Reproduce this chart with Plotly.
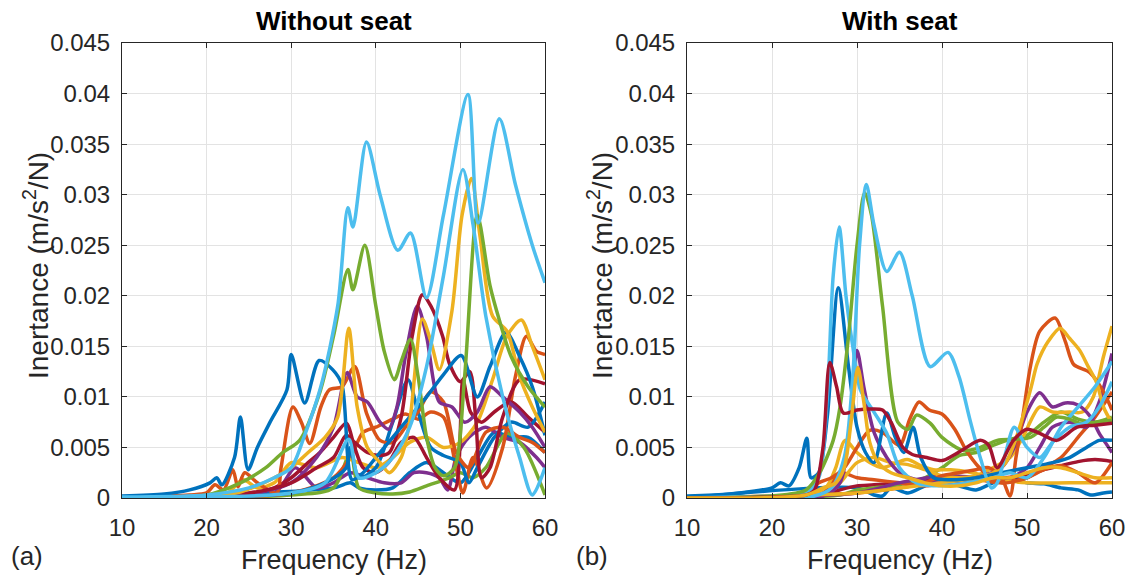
import plotly.graph_objects as go

# ---------------- colours (MATLAB default order) ----------------
BLUE, ORANGE, YELLOW, PURPLE, GREEN, LBLUE, DRED = (
    "#0072BD", "#D95319", "#EDB120", "#7E2F8E", "#77AC30", "#4DBEEE", "#A2142F")

X_TICKS = [10, 20, 30, 40, 50, 60]
Y_TICKS = [0, 0.005, 0.01, 0.015, 0.02, 0.025, 0.03, 0.035, 0.04, 0.045]
Y_TICK_TEXT = ["0", "0.005", "0.01", "0.015", "0.02", "0.025", "0.03", "0.035", "0.04", "0.045"]

# ======================= (a) Without seat =======================
a_blue1_f = [10, 15, 18, 20.4, 21.2, 21.8, 23.3, 24, 24.9, 26, 27.5, 29.5, 30, 31.6, 33.3, 34.9, 36, 37.2, 38.5, 40, 42, 44, 46, 48, 50.1, 52, 53.5, 55.4, 57, 58.5, 60]
a_blue1_v = [0.0002, 0.0004, 0.0008, 0.0015, 0.002, 0.0013, 0.004, 0.008, 0.0028, 0.005, 0.0075, 0.0107, 0.0142, 0.0094, 0.0136, 0.0127, 0.0112, 0.0018, 0.0025, 0.004, 0.006, 0.008, 0.01, 0.0122, 0.0141, 0.0100, 0.013, 0.0164, 0.014, 0.011, 0.0062]
a_blue2_f = [10, 30, 34, 36.5, 37, 38, 40, 42, 43.8, 45, 46.5, 48, 50, 51, 52, 54, 56, 58, 60]
a_blue2_v = [0, 0.0005, 0.0015, 0.003, 0.005, 0.002, 0.003, 0.0075, 0.0117, 0.0085, 0.005, 0.0042, 0.0035, 0.0015, 0.003, 0.006, 0.0075, 0.007, 0.0095]
a_blue3_f = [10, 35, 37, 38, 40, 42, 44, 46, 48, 50, 52, 54, 56, 58, 60]
a_blue3_v = [0, 0.001, 0.0015, 0.001, 0.0008, 0.001, 0.0025, 0.0035, 0.0025, 0.0015, 0.004, 0.0065, 0.006, 0.006, 0.0045]
a_orange1_f = [10, 18, 20, 21, 22, 23.1, 23.7, 24.5, 26, 28.3, 28.8, 30.2, 31.2, 32.2, 33.5, 34.5, 36, 37.5, 38.9, 40.5, 42, 43.5, 45, 46.5, 48, 49.5, 51, 53, 55, 57, 58.5, 60]
a_orange1_v = [0.0001, 0.0003, 0.0005, 0.0013, 0.0008, 0.0028, 0.0011, 0.0025, 0.0015, 0.0005, 0.003, 0.009, 0.0075, 0.0054, 0.009, 0.0107, 0.011, 0.013, 0.0084, 0.0057, 0.0055, 0.007, 0.0085, 0.0105, 0.0095, 0.0045, 0.003, 0.0065, 0.007, 0.006, 0.0055, 0.0045]
a_orange2_f = [10, 30, 35, 37, 38.5, 40, 42, 43.5, 45, 46.5, 48, 49.5, 50.3, 51.5, 53.1, 55, 56.5, 57.8, 59, 60]
a_orange2_v = [0, 0.0005, 0.002, 0.004, 0.0065, 0.007, 0.0078, 0.0083, 0.0078, 0.0085, 0.008, 0.003, 0.0005, 0.004, 0.001, 0.005, 0.012, 0.016, 0.0145, 0.0142]
a_yellow1_f = [10, 20, 24, 26, 28, 30, 32, 34, 35.5, 36.8, 37.8, 39, 40.5, 41.6, 43, 44, 45.5, 46.5, 47.5, 49, 50.2, 51.3, 52.3, 53.8, 55.5, 57, 58.5, 60]
a_yellow1_v = [0, 0.0002, 0.0006, 0.0012, 0.002, 0.003, 0.0045, 0.006, 0.008, 0.0168, 0.009, 0.005, 0.0035, 0.0025, 0.004, 0.0075, 0.0177, 0.0155, 0.0127, 0.0185, 0.028, 0.0316, 0.026, 0.018, 0.0165, 0.012, 0.009, 0.0065]
a_yellow2_f = [10, 22, 24.3, 26, 28, 30, 33, 36, 38, 40, 42, 44, 46, 48, 50, 52, 53.8, 55.5, 57.2, 58.5, 60]
a_yellow2_v = [0, 0.0002, 0.0018, 0.001, 0.0015, 0.0035, 0.003, 0.004, 0.0035, 0.003, 0.004, 0.0055, 0.006, 0.005, 0.0055, 0.0075, 0.0117, 0.016, 0.0176, 0.015, 0.0117]
a_purple1_f = [10, 25, 30, 33, 35, 36.6, 37.8, 39, 40.5, 41.5, 42.5, 43.5, 44.9, 46, 47.5, 49, 50.5, 52, 53.5, 55, 57, 58.5, 60]
a_purple1_v = [0, 0.0004, 0.0015, 0.004, 0.007, 0.0124, 0.01, 0.0095, 0.0075, 0.0068, 0.009, 0.014, 0.019, 0.016, 0.0095, 0.009, 0.0075, 0.0085, 0.011, 0.01, 0.0085, 0.007, 0.005]
a_purple2_f = [10, 28, 30.5, 33, 35, 37, 39, 41, 43, 44.5, 46, 47.5, 48.5, 49.5, 51, 53, 55, 57, 59, 60]
a_purple2_v = [0, 0.0005, 0.003, 0.001, 0.0015, 0.0025, 0.002, 0.0015, 0.0015, 0.0025, 0.0025, 0.002, 0.0008, 0.004, 0.006, 0.007, 0.006, 0.0055, 0.004, 0.003]
a_green1_f = [10, 20, 24, 27, 29, 31, 33.4, 35, 36.7, 37.3, 38.7, 40, 41, 42.2, 43, 44.1, 45, 46, 47, 48, 49.3, 50.5, 52, 53.5, 54.6, 56, 58, 60]
a_green1_v = [0, 0.0003, 0.0015, 0.003, 0.0045, 0.0057, 0.0105, 0.016, 0.0226, 0.0206, 0.025, 0.019, 0.0145, 0.0117, 0.0135, 0.0157, 0.012, 0.006, 0.003, 0.0022, 0.003, 0.012, 0.028, 0.021, 0.0176, 0.014, 0.011, 0.009]
a_green2_f = [10, 30, 35, 37, 38, 40, 42, 44, 46, 48.7, 50, 51.5, 53, 55.5, 57.5, 60]
a_green2_v = [0, 0.0003, 0.001, 0.0045, 0.001, 0.0005, 0.0004, 0.0006, 0.0012, 0.002, 0.0025, 0.002, 0.003, 0.0064, 0.005, 0.0003]
a_lblue1_f = [10, 20, 25, 28, 30, 31.5, 33.5, 35.5, 36.7, 37.3, 38.9, 40.5, 42.6, 44.1, 46, 48, 50.9, 52.1, 54.6, 56.5, 58.5, 60]
a_lblue1_v = [0.0001, 0.0003, 0.001, 0.002, 0.003, 0.006, 0.011, 0.019, 0.0287, 0.0268, 0.0352, 0.030, 0.0245, 0.0262, 0.0198, 0.028, 0.0399, 0.0272, 0.0375, 0.031, 0.025, 0.0213]
a_lblue2_f = [10, 30, 34, 36.8, 38, 40, 42, 44, 46, 48, 50.3, 51.5, 53, 55, 57, 58.5, 60]
a_lblue2_v = [0, 0.0005, 0.0015, 0.0058, 0.002, 0.0025, 0.004, 0.007, 0.013, 0.022, 0.0325, 0.027, 0.018, 0.01, 0.004, 0.0003, 0.003]
a_dred1_f = [10, 25, 30, 33, 35, 36.5, 37.5, 39, 40.5, 41.6, 43, 44.3, 45.5, 46.5, 47.9, 48.7, 50, 51.1, 51.8, 52.5, 53.5, 55, 57, 60]
a_dred1_v = [0, 0.0005, 0.0015, 0.003, 0.004, 0.0062, 0.0055, 0.0045, 0.0042, 0.0045, 0.008, 0.016, 0.0201, 0.019, 0.016, 0.0133, 0.0115, 0.0125, 0.008, 0.002, 0.003, 0.008, 0.0117, 0.0113]
a_dred2_f = [10, 25, 28, 30, 32, 33.4, 35, 36.5, 37.5, 38.5, 40, 41.5, 43, 44.5, 46, 47.5, 49.3, 50.3, 51.2, 52.5, 54, 56, 58, 60]
a_dred2_v = [0, 0.0003, 0.001, 0.002, 0.0035, 0.0045, 0.006, 0.0074, 0.005, 0.003, 0.0025, 0.0035, 0.0055, 0.006, 0.004, 0.002, 0.0008, 0.0117, 0.0085, 0.0075, 0.0085, 0.0095, 0.008, 0.0065]

# ======================= (b) With seat =======================
b_blue1_f = [10, 15, 18, 20, 21, 22, 23.2, 24.1, 24.6, 25.5, 26.5, 27.8, 29, 30, 31, 32, 33.5, 34.5, 35.5, 36.6, 37.5, 39, 41, 44, 47, 50, 53, 55, 57, 58.5, 60]
b_blue1_v = [0.0002, 0.0004, 0.0007, 0.001, 0.0015, 0.0012, 0.003, 0.0059, 0.002, 0.0025, 0.008, 0.0208, 0.013, 0.007, 0.0045, 0.0035, 0.0084, 0.006, 0.0045, 0.007, 0.004, 0.002, 0.0018, 0.002, 0.0025, 0.003, 0.0035, 0.004, 0.005, 0.0057, 0.0057]
b_blue2_f = [10, 30, 32, 33, 34, 36, 38, 40, 42, 44, 46, 48, 50, 52, 54, 56, 57.5, 59, 60]
b_blue2_v = [0, 0.001, 0.0003, 0.0002, 0.001, 0.0005, 0.0012, 0.0018, 0.0012, 0.0008, 0.0015, 0.002, 0.0015, 0.0014, 0.001, 0.0008, 0.0003, 0.0005, 0.0006]
b_orange1_f = [10, 30, 35, 38, 40, 42, 44, 45.5, 47, 48, 48.7, 49.5, 50.4, 51.5, 53.3, 54.5, 55.5, 57.4, 59, 60]
b_orange1_v = [0, 0.0005, 0.001, 0.0015, 0.0022, 0.0025, 0.0028, 0.003, 0.002, 0.0002, 0.004, 0.008, 0.013, 0.0165, 0.0178, 0.0155, 0.0132, 0.0124, 0.0105, 0.0087]
b_orange2_f = [10, 24, 25.5, 27, 28.5, 30, 31.5, 33, 35, 36.2, 37.3, 38.5, 40, 41.5, 43, 45, 47, 50, 52, 54, 56, 58, 60]
b_orange2_v = [0, 0.0003, 0.0015, 0.002, 0.003, 0.005, 0.0067, 0.0065, 0.0052, 0.0078, 0.0095, 0.0087, 0.0083, 0.0068, 0.0045, 0.0025, 0.0015, 0.002, 0.0028, 0.0032, 0.0025, 0.0015, 0.0035]
b_orange3_f = [10, 26, 28, 30, 32, 35, 38, 41, 44, 47, 50, 52, 54, 56, 58, 60]
b_orange3_v = [0, 0.0005, 0.0025, 0.002, 0.0018, 0.0015, 0.0012, 0.0015, 0.0018, 0.0015, 0.002, 0.003, 0.004, 0.006, 0.008, 0.0105]
b_yellow1_f = [10, 30, 35, 40, 44, 46, 47.5, 48.5, 49.5, 50.5, 51.2, 52.5, 53.9, 55, 56.2, 57.2, 58.2, 59, 60]
b_yellow1_v = [0, 0.0005, 0.001, 0.0015, 0.002, 0.0025, 0.0035, 0.0054, 0.008, 0.011, 0.0133, 0.0155, 0.0168, 0.0158, 0.0146, 0.013, 0.0114, 0.009, 0.0074]
b_yellow2_f = [10, 26, 28, 30, 32, 34, 36, 38, 40, 42, 44, 46, 48, 49.5, 51.5, 53, 55, 56.5, 57.8, 59, 60]
b_yellow2_v = [0, 0.0003, 0.0015, 0.0035, 0.004, 0.0035, 0.0033, 0.0028, 0.0022, 0.002, 0.0022, 0.003, 0.004, 0.006, 0.009, 0.0085, 0.0085, 0.0085, 0.01, 0.014, 0.017]
b_yellow3_f = [10, 24, 26, 27.5, 28.5, 29.3, 30.1, 30.8, 31.5, 32.5, 34, 36, 38, 40, 42, 44, 46, 48, 50, 52, 54, 56, 58, 60]
b_yellow3_v = [0, 0.0003, 0.001, 0.0015, 0.003, 0.0075, 0.0129, 0.0095, 0.0055, 0.0035, 0.0025, 0.002, 0.0015, 0.0012, 0.0012, 0.0015, 0.002, 0.002, 0.0025, 0.003, 0.003, 0.0025, 0.002, 0.002]
b_yellow4_f = [10, 25, 26.5, 27.5, 28.6, 30, 31.5, 33, 35.9, 37.5, 39, 41, 43, 45, 47, 50, 55, 60]
b_yellow4_v = [0, 0.0005, 0.0012, 0.003, 0.0057, 0.0045, 0.0035, 0.003, 0.0038, 0.0032, 0.0028, 0.0028, 0.0026, 0.0022, 0.0018, 0.0015, 0.0015, 0.0015]
b_purple1_f = [10, 26, 28, 29, 30, 30.8, 32, 33.5, 35, 37, 40, 44, 47, 48.5, 50, 51.5, 53, 54.5, 56, 57.5, 58.5, 59.2, 60]
b_purple1_v = [0, 0.0002, 0.0015, 0.006, 0.0146, 0.011, 0.0065, 0.004, 0.0025, 0.0018, 0.0015, 0.002, 0.003, 0.005, 0.0085, 0.0104, 0.009, 0.0094, 0.0092, 0.008, 0.0064, 0.0055, 0.0045]
b_purple2_f = [10, 30, 35, 40, 45, 48, 50, 51.5, 53, 55, 57, 58.5, 60]
b_purple2_v = [0, 0.0005, 0.0015, 0.0022, 0.002, 0.002, 0.003, 0.005, 0.007, 0.0075, 0.007, 0.0095, 0.0143]
b_green1_f = [10, 20, 24, 25.6, 27.2, 28, 29, 30, 30.9, 31.7, 33, 34.8, 36, 37, 38.6, 40, 42.5, 44.5, 46.5, 48.5, 50.4, 52, 53.5, 55, 56.2, 58, 60]
b_green1_v = [0, 0.0002, 0.0008, 0.0025, 0.0057, 0.009, 0.016, 0.025, 0.0302, 0.028, 0.019, 0.0075, 0.0068, 0.0082, 0.0074, 0.006, 0.0047, 0.005, 0.0057, 0.0058, 0.006, 0.007, 0.008, 0.0078, 0.0074, 0.0075, 0.0077]
b_green2_f = [10, 28, 30, 32, 34, 36, 38, 40, 42, 44, 46, 48, 50, 52, 54, 56, 58, 60]
b_green2_v = [0, 0.0003, 0.0008, 0.001, 0.0012, 0.0015, 0.002, 0.003, 0.0042, 0.0045, 0.0052, 0.0058, 0.0062, 0.0075, 0.0085, 0.0078, 0.0075, 0.008]
b_lblue1_f = [10, 20, 24, 25.5, 26.5, 27.2, 27.9, 28.7, 29.5, 30.4, 32, 33.5, 35, 37, 40, 43, 46, 48, 50, 52, 54, 56, 58, 60]
b_lblue1_v = [0, 0.0002, 0.0005, 0.002, 0.01, 0.022, 0.0268, 0.02, 0.015, 0.0107, 0.0085, 0.0064, 0.003, 0.0015, 0.0012, 0.0015, 0.002, 0.0025, 0.002, 0.004, 0.007, 0.009, 0.011, 0.0135]
b_lblue2_f = [10, 25, 27, 28.5, 29.5, 30.3, 31.1, 32, 33.5, 35, 36.5, 38.6, 40.7, 42, 43.3, 44.5, 45.8, 46.5, 47.5, 48.5, 50, 51.5, 53, 55, 57, 58.5, 60]
b_lblue2_v = [0, 0.0002, 0.001, 0.004, 0.012, 0.025, 0.031, 0.027, 0.0224, 0.0243, 0.02, 0.013, 0.0144, 0.012, 0.0077, 0.004, 0.001, 0.0015, 0.0045, 0.007, 0.005, 0.004, 0.0055, 0.007, 0.0075, 0.009, 0.0115]
b_dred1_f = [10, 20, 24, 25, 26, 26.8, 27.6, 28.4, 30, 31.5, 33, 34, 35.4, 36.5, 38.2, 40, 41.3, 42.5, 44.5, 45.5, 46.5, 48.4, 50, 51.5, 53.5, 55.9, 58, 60]
b_dred1_v = [0, 0.0001, 0.0003, 0.0008, 0.005, 0.0134, 0.011, 0.0084, 0.0087, 0.0088, 0.0087, 0.0075, 0.005, 0.0043, 0.004, 0.0037, 0.0042, 0.0048, 0.0057, 0.0052, 0.003, 0.0057, 0.0068, 0.0064, 0.0057, 0.007, 0.0072, 0.0074]
b_dred2_f = [10, 26, 28, 30, 32, 35, 38, 41, 44, 47, 50, 52, 54, 56, 58, 60]
b_dred2_v = [0, 0.0003, 0.0008, 0.0012, 0.0013, 0.0015, 0.0018, 0.0015, 0.0017, 0.002, 0.0022, 0.0028, 0.0032, 0.0036, 0.0038, 0.0036]

panel_a = [
    (a_blue3_f, a_blue3_v, BLUE), (a_purple2_f, a_purple2_v, PURPLE), (a_green2_f, a_green2_v, GREEN),
    (a_orange2_f, a_orange2_v, ORANGE), (a_yellow2_f, a_yellow2_v, YELLOW), (a_dred2_f, a_dred2_v, DRED),
    (a_blue2_f, a_blue2_v, BLUE), (a_orange1_f, a_orange1_v, ORANGE), (a_purple1_f, a_purple1_v, PURPLE),
    (a_dred1_f, a_dred1_v, DRED), (a_blue1_f, a_blue1_v, BLUE), (a_yellow1_f, a_yellow1_v, YELLOW),
    (a_green1_f, a_green1_v, GREEN), (a_lblue2_f, a_lblue2_v, LBLUE), (a_lblue1_f, a_lblue1_v, LBLUE),
]
panel_b = [
    (b_blue2_f, b_blue2_v, BLUE), (b_dred2_f, b_dred2_v, DRED), (b_green2_f, b_green2_v, GREEN),
    (b_orange3_f, b_orange3_v, ORANGE), (b_yellow4_f, b_yellow4_v, YELLOW), (b_purple2_f, b_purple2_v, PURPLE),
    (b_yellow2_f, b_yellow2_v, YELLOW), (b_orange2_f, b_orange2_v, ORANGE), (b_purple1_f, b_purple1_v, PURPLE),
    (b_orange1_f, b_orange1_v, ORANGE), (b_yellow1_f, b_yellow1_v, YELLOW), (b_blue1_f, b_blue1_v, BLUE),
    (b_lblue1_f, b_lblue1_v, LBLUE), (b_green1_f, b_green1_v, GREEN), (b_lblue2_f, b_lblue2_v, LBLUE),
    (b_dred1_f, b_dred1_v, DRED), (b_yellow3_f, b_yellow3_v, YELLOW),
]

fig = go.Figure()
for f, v, c in panel_a:
    fig.add_trace(go.Scatter(x=f, y=v, mode="lines", xaxis="x", yaxis="y",
                             line=dict(color=c, width=3.5, shape="spline", smoothing=0.8),
                             showlegend=False, hoverinfo="skip"))
for f, v, c in panel_b:
    fig.add_trace(go.Scatter(x=f, y=v, mode="lines", xaxis="x2", yaxis="y2",
                             line=dict(color=c, width=3.5, shape="spline", smoothing=0.8),
                             showlegend=False, hoverinfo="skip"))

FONT = "Liberation Sans, Arial, sans-serif"
TXT = "#262626"
W, H = 1128, 576
x_dom_a = [122 / W, 545 / W]
x_dom_b = [687 / W, 1112 / W]
y_dom = [1 - 498 / H, 1 - 43 / H]

xcommon = dict(range=[10, 60], tickvals=X_TICKS, ticks="inside", ticklen=5, tickcolor=TXT,
               showline=True, linecolor=TXT, linewidth=1, mirror="ticks", automargin=False,
               showgrid=True, gridcolor="#e3e3e3", gridwidth=1, zeroline=False,
               tickfont=dict(family=FONT, size=24, color=TXT), ticklabelstandoff=8)
ycommon = dict(range=[0, 0.045], tickvals=Y_TICKS, ticktext=Y_TICK_TEXT, ticks="inside", ticklen=5,
               tickcolor=TXT, showline=True, linecolor=TXT, linewidth=1, mirror="ticks", automargin=False,
               showgrid=True, gridcolor="#e3e3e3", gridwidth=1, zeroline=False,
               tickfont=dict(family=FONT, size=24, color=TXT), ticklabelstandoff=6)

fig.update_layout(
    width=W, height=H, margin=dict(l=0, r=0, t=0, b=0, autoexpand=False),
    paper_bgcolor="white", plot_bgcolor="white",
    xaxis=dict(domain=x_dom_a, anchor="y", **xcommon),
    yaxis=dict(domain=y_dom, anchor="x", **ycommon),
    xaxis2=dict(domain=x_dom_b, anchor="y2", **xcommon),
    yaxis2=dict(domain=y_dom, anchor="x2", **ycommon),
)

ann = []
for cx, title in [((122 + 545) / 2, "Without seat"), ((687 + 1112) / 2, "With seat")]:
    ann.append(dict(x=cx / W, y=1 - 21 / H, xref="paper", yref="paper", text="<b>" + title + "</b>",
                    showarrow=False, font=dict(family=FONT, size=26, color="black"),
                    xanchor="center", yanchor="middle"))
    ann.append(dict(x=cx / W, y=1 - 560 / H, xref="paper", yref="paper", text="Frequency (Hz)",
                    showarrow=False, font=dict(family=FONT, size=27, color=TXT),
                    xanchor="center", yanchor="middle"))
for lx in [36, 600]:
    ann.append(dict(x=lx / W, y=1 - 266 / H, xref="paper", yref="paper",
                    text="Inertance (m/s<sup>2</sup>/N)", textangle=-90,
                    showarrow=False, font=dict(family=FONT, size=28, color=TXT),
                    xanchor="center", yanchor="middle"))
for lx, lab in [(27, "(a)"), (592, "(b)")]:
    ann.append(dict(x=lx / W, y=1 - 556 / H, xref="paper", yref="paper", text=lab,
                    showarrow=False, font=dict(family=FONT, size=26, color=TXT),
                    xanchor="center", yanchor="middle"))
fig.update_layout(annotations=ann)

fig.write_html("out.html", config={"displayModeBar": False, "staticPlot": True},
               post_script="document.body.style.margin='0';document.body.style.overflow='hidden';")
